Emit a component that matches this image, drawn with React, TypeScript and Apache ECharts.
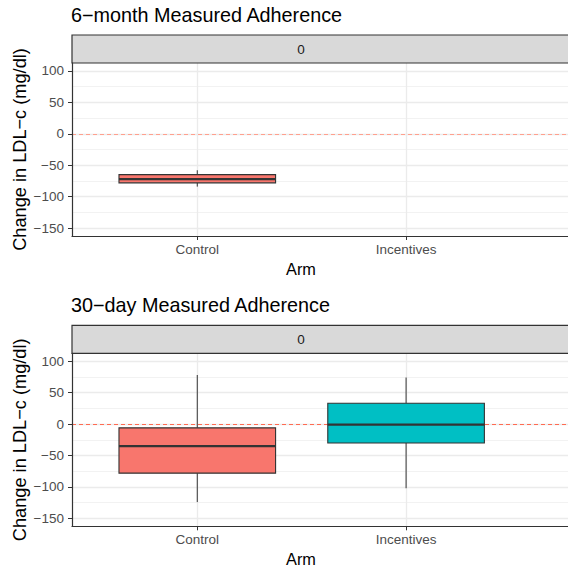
import React, { useEffect, useRef } from 'react';
import * as echarts from 'echarts';

// ---- data ----
const arms = ['Control', 'Incentives'];
const armColors = ['#F8766D', '#00BFC4'];
const armPositions = [1, 2];
// box stats: [min, q1, median, q3, max]
const sixMonthControl = [-84, -78, -72, -65, -58];
const thirtyDayControl = [-124, -78, -35, -6, 78];
const thirtyDayIncentives = [-102, -30, -1, 33, 74];
const yTicks = [-150, -100, -50, 0, 50, 100];
const yMinor = [-125, -75, -25, 25, 75];
const refLine = 0;
const panelTitles = ['6\u2212month Measured Adherence', '30\u2212day Measured Adherence'];
const stripLabel = '0';
const yTitle = 'Change in LDL\u2212c (mg/dl)';
const xTitle = 'Arm';

const FONT = '"Liberation Sans", Arial, Helvetica, sans-serif';

const panels = [
  { boxes: [[armPositions[0], ...sixMonthControl, 0]], refColor: '#FFA08E' },
  {
    boxes: [
      [armPositions[0], ...thirtyDayControl, 0],
      [armPositions[1], ...thirtyDayIncentives, 1],
    ],
    refColor: '#FF6B52',
  },
];

const gridTops = [63, 353.3];
const gridHeight = 173;
const GRID_LEFT = 72;
const GRID_WIDTH = 522;

const fmtY = (v: number) => (v < 0 ? '\u2212' + Math.abs(v) : String(v));

const renderBox = (params: any, api: any) => {
  const x = api.value(0);
  const idx = api.value(6);
  const pMin = api.coord([x, api.value(1)]);
  const pQ1 = api.coord([x, api.value(2)]);
  const pMed = api.coord([x, api.value(3)]);
  const pQ3 = api.coord([x, api.value(4)]);
  const pMax = api.coord([x, api.value(5)]);
  const w = api.size([0.75, 0])[0];
  const cx = pMed[0];
  const left = cx - w / 2;
  return {
    type: 'group',
    children: [
      { type: 'line', shape: { x1: cx, y1: pQ3[1], x2: cx, y2: pMax[1] }, style: { stroke: '#333333', lineWidth: 1 } },
      { type: 'line', shape: { x1: cx, y1: pQ1[1], x2: cx, y2: pMin[1] }, style: { stroke: '#333333', lineWidth: 1 } },
      {
        type: 'rect',
        shape: { x: left, y: pQ3[1], width: w, height: pQ1[1] - pQ3[1] },
        style: { fill: armColors[idx], stroke: '#333333', lineWidth: 1.1 },
      },
      { type: 'line', shape: { x1: left, y1: pMed[1], x2: left + w, y2: pMed[1] }, style: { stroke: '#333333', lineWidth: 2.3 } },
    ],
  };
};

export default function App() {
  const ref = useRef<HTMLDivElement>(null);
  useEffect(() => {
    if (!ref.current) return;
    const chart = echarts.init(ref.current, undefined, { renderer: 'svg' });

    const grid: any[] = [];
    const xAxis: any[] = [];
    const yAxis: any[] = [];
    const series: any[] = [];
    const title: any[] = [];
    const graphic: any[] = [];

    panels.forEach((p, i) => {
      grid.push({
        left: GRID_LEFT,
        width: GRID_WIDTH,
        top: gridTops[i],
        height: gridHeight,
        containLabel: false,
        outerBoundsMode: 'none',
        show: false,
      });
      xAxis.push({
        gridIndex: i,
        type: 'value',
        min: 0.4,
        max: 2.9,
        splitLine: { show: false },
        axisLine: { show: true, onZero: false, lineStyle: { color: '#333333', width: 1.2 } },
        axisTick: { show: true, length: 4, lineStyle: { color: '#333333', width: 1 }, customValues: armPositions },
        axisLabel: {
          customValues: armPositions,
          formatter: (v: number) => arms[Math.round(v) - 1] ?? '',
          color: '#4d4d4d',
          fontSize: 13.5,
          fontFamily: FONT,
          margin: 6,
        },
        name: xTitle,
        nameLocation: 'middle',
        nameGap: 25,
        z: 12,
        nameTextStyle: { fontSize: 16.3, color: '#000', fontFamily: FONT, padding: [0, 64, 0, 0] },
      });
      yAxis.push({
        gridIndex: i,
        type: 'value',
        min: -162.5,
        max: 112.5,
        splitLine: { show: false },
        axisLine: { show: true, onZero: false, lineStyle: { color: '#333333', width: 1.2 } },
        axisTick: { show: true, length: 4, lineStyle: { color: '#333333', width: 1 }, customValues: yTicks },
        axisLabel: {
          customValues: yTicks,
          formatter: fmtY,
          color: '#4d4d4d',
          fontSize: 13.5,
          fontFamily: FONT,
          margin: 8,
        },
        name: yTitle,
        nameLocation: 'middle',
        nameGap: 43,
        nameMoveOverlap: false,
        z: 12,
        nameTextStyle: { fontSize: 18.2, color: '#000', fontFamily: FONT },
      });
      series.push({
        type: 'line',
        xAxisIndex: i,
        yAxisIndex: i,
        data: [],
        z: 1,
        silent: true,
        markLine: {
          silent: true,
          symbol: 'none',
          animation: false,
          z: 1,
          label: { show: false },
          data: [
            ...yMinor.map((v) => ({ yAxis: v, lineStyle: { color: '#f2f2f2', width: 1, type: 'solid' } })),
            ...yTicks.map((v) => ({ yAxis: v, lineStyle: { color: '#ebebeb', width: 1.3, type: 'solid' } })),
            ...armPositions.map((v) => ({ xAxis: v, lineStyle: { color: '#ebebeb', width: 1.3, type: 'solid' } })),
            { yAxis: refLine, lineStyle: { color: p.refColor, width: 1.2, type: [4, 3] } },
          ],
        },
      });
      series.push({
        type: 'custom',
        xAxisIndex: i,
        yAxisIndex: i,
        z: 10,
        renderItem: renderBox,
        encode: { x: 0, y: [1, 2, 3, 4, 5] },
        data: p.boxes,
      });
      title.push({
        text: panelTitles[i],
        left: 71,
        top: gridTops[i] - 58,
        padding: 0,
        textStyle: { fontSize: 19.8, fontWeight: 'normal', color: '#000', fontFamily: FONT },
      });
      const stripTop = gridTops[i] - 28;
      graphic.push({
        type: 'rect',
        shape: { x: GRID_LEFT, y: stripTop, width: 600, height: 28 },
        style: { fill: '#d9d9d9', stroke: '#333333', lineWidth: 1.2 },
        z: 11,
      });
      graphic.push({
        type: 'text',
        x: 301,
        y: stripTop + 14,
        style: {
          text: stripLabel,
          fontSize: 13.5,
          fontFamily: FONT,
          fill: '#1a1a1a',
          align: 'center',
          verticalAlign: 'middle',
        },
        z: 12,
      });
    });

    chart.setOption({
      animation: false,
      backgroundColor: '#ffffff',
      title,
      grid,
      xAxis,
      yAxis,
      series,
      graphic,
    });
    return () => chart.dispose();
  }, []);
  return (
    <div
      ref={ref}
      style={{ position: 'fixed', left: 0, top: 0, width: 568, height: 573, overflow: 'hidden' }}
    />
  );
}
